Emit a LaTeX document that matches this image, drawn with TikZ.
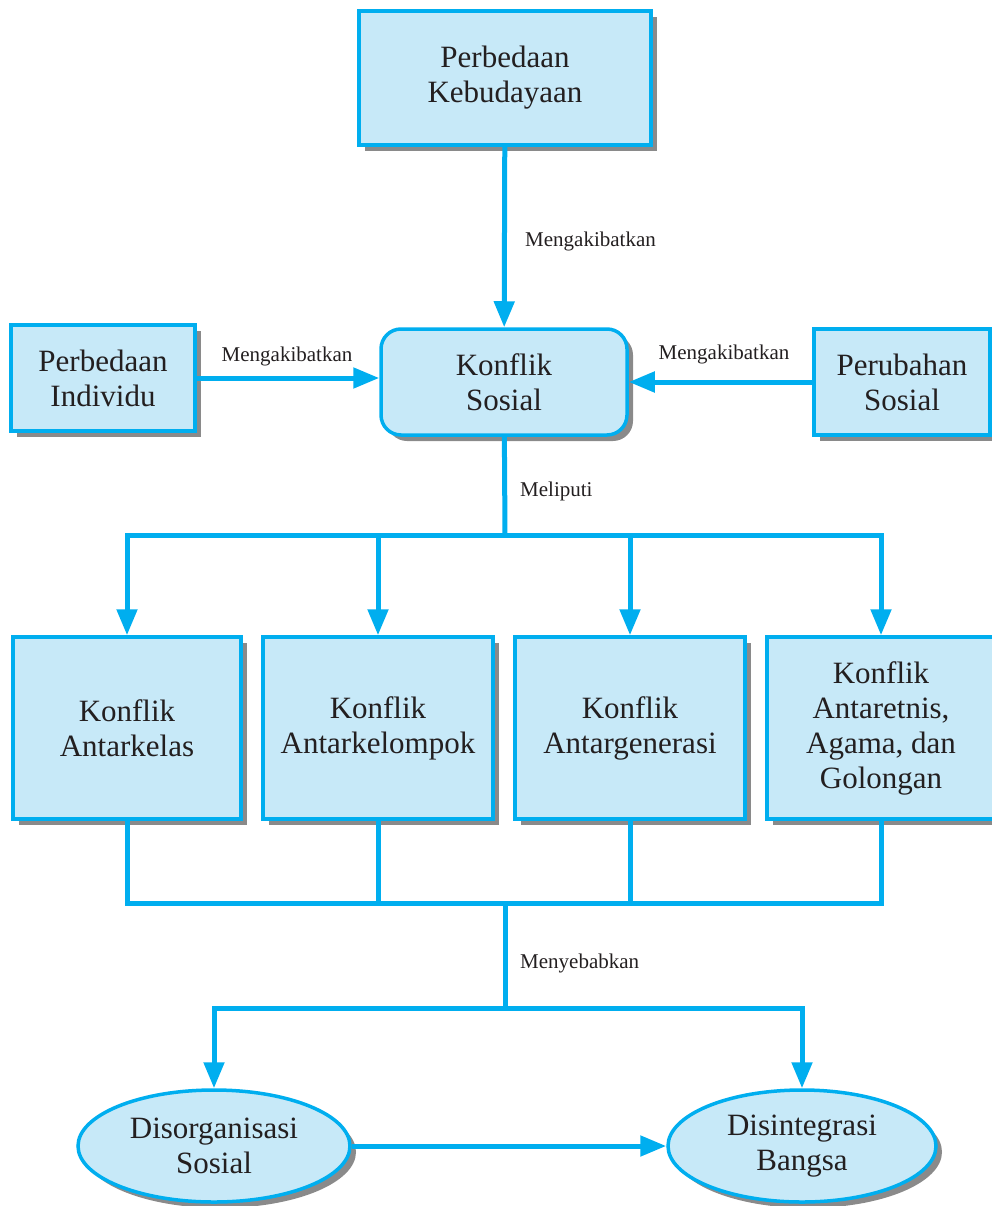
\documentclass[tikz,border=0pt]{standalone}
\usepackage{fontspec}
\setmainfont{Liberation Serif}
\usepackage{xcolor}
\usepackage{tikz}
\usetikzlibrary{positioning, arrows.meta, shapes.geometric, shadows}

\definecolor{cyanline}{HTML}{00AEEF}
\definecolor{cyanfill}{HTML}{C7E9F8}
\definecolor{inktext}{HTML}{231F20}

\tikzset{
    boxbase/.style={draw=cyanline, fill=cyanfill, line width=3.5pt, align=center,
        text=inktext, font=\fontsize{31}{35}\selectfont,
        drop shadow={shadow xshift=6pt, shadow yshift=-6pt, fill=black!65, opacity=0.7}},
    sqbox/.style={boxbase, rectangle},
    rndbox/.style={boxbase, rectangle, rounded corners=20pt},
    ovalbox/.style={boxbase, ellipse, inner sep=0pt},
    link/.style={cyanline, line width=5pt},
    arr/.style={link, -{Triangle[length=26pt, width=20pt]}},
    lbl/.style={text=inktext, font=\fontsize{21}{24}\selectfont, inner sep=0pt}
}

\begin{document}
\begin{tikzpicture}[x=1pt, y=-1pt]
    \useasboundingbox (0,0) rectangle (992,1206);

    \node[sqbox, minimum width=292pt, minimum height=134pt] (budaya) at (505,78) {Perbedaan\\Kebudayaan};
    \node[sqbox, minimum width=184pt, minimum height=106pt] (individu) at (103,378) {Perbedaan\\Individu};
    \node[rndbox, minimum width=246pt, minimum height=106pt] (konflik) at (504,382) {Konflik\\Sosial};
    \node[sqbox, minimum width=176pt, minimum height=106pt] (ubah) at (902,382) {Perubahan\\Sosial};

    \node[sqbox, minimum width=228pt, minimum height=182pt] (kelas) at (127,728) {Konflik\\Antarkelas};
    \node[sqbox, minimum width=230pt, minimum height=182pt] (kelompok) at (378,728) {Konflik\\Antarkelompok};
    \node[sqbox, minimum width=230pt, minimum height=182pt] (generasi) at (630,728) {Konflik\\Antargenerasi};
    \node[sqbox, minimum width=228pt, minimum height=182pt] (etnis) at (881,728) {Konflik\\Antaretnis,\\Agama, dan\\Golongan};

    \node[ovalbox, minimum width=272pt, minimum height=112pt] (disorg) at (214,1146) {Disorganisasi\\Sosial};
    \node[ovalbox, minimum width=268pt, minimum height=112pt] (disint) at (802,1146) {Disintegrasi\\Bangsa};

    \coordinate (bagi) at (505,535);
    \coordinate (gabung) at (505,903);
    \coordinate (pecah) at (505,1008);

    \draw[arr] (budaya) -- (konflik);
    \draw[arr] (individu) -- (konflik.west |- individu);
    \draw[arr] (ubah) -- (konflik.east |- ubah);

    \draw[link] (konflik) -- (bagi);
    \foreach \k in {kelas, kelompok, generasi, etnis}
        \draw[arr] (bagi) -| (\k);
    \foreach \k in {kelas, kelompok, generasi, etnis}
        \draw[link] (\k) |- (gabung);
    \draw[link] (gabung) -- (pecah);
    \draw[arr] (pecah) -| (disorg);
    \draw[arr] (pecah) -| (disint);
    \draw[arr] (disorg) -- (disint);

    \node[lbl, anchor=west] (lbl1) at (525,241) {Mengakibatkan};
    \node[lbl] (lbl2) at (287,356) {Mengakibatkan};
    \node[lbl] (lbl3) at (724,354) {Mengakibatkan};
    \node[lbl, anchor=west] (lbl4) at (520,491) {Meliputi};
    \node[lbl, anchor=west] (lbl5) at (520,963) {Menyebabkan};
\end{tikzpicture}
\end{document}
